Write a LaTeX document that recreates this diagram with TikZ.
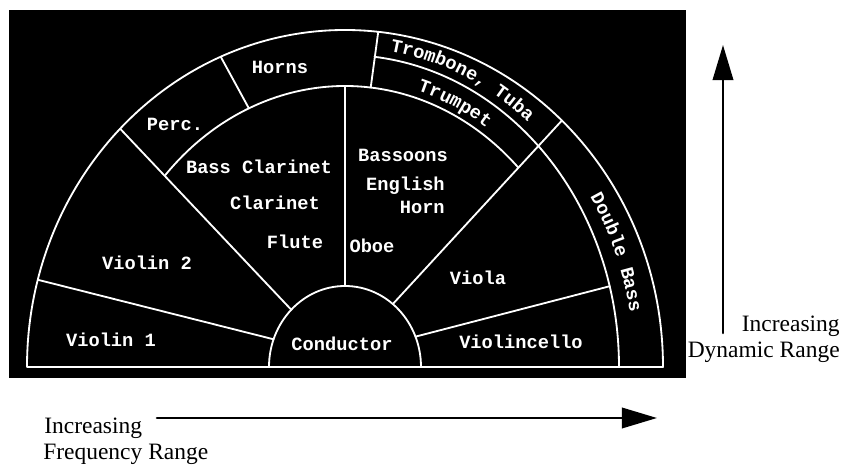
\documentclass[tikz,border=0pt]{standalone}
\usepackage{fontspec}
\setmainfont{Liberation Serif}
\newfontfamily\orchfont{Liberation Mono}
\usetikzlibrary{arrows.meta,decorations.text}

\tikzset{
	seat/.style={font=\orchfont\bfseries\fontsize{13.3}{16.5}\selectfont, text=white, inner sep=0pt, text height=9pt, text depth=0pt},
	ringtext/.style={decorate, decoration={text along path, text align=center,
		text={|\orchfont\bfseries\fontsize{13.3}{16.5}\selectfont\color{white}|#1}}},
	rangelabel/.style={font=\fontsize{16.7}{18.5}\selectfont, inner sep=0pt},
}

\begin{document}
\begin{tikzpicture}[>={Triangle[length=25pt, width=14.5pt]}, line join=round, line cap=round, x=0.025cm, y=0.025cm]
	\useasboundingbox (-345,-98) rectangle (498,367);
	% Nền đen
	\fill[black] (-336,-11) rectangle (341,357);
	
	% Các vòng cung
	\begin{scope}[white, line width=1.3pt]
		\draw (-318,0) -- (318,0) arc[start angle=0, end angle=180, x radius=318, y radius=337];
		\draw (76,0) arc[start angle=0, end angle=180, x radius=76, y radius=81];
		\draw (137:246 and 281) arc[start angle=137, end angle=45.2, x radius=246, y radius=281];
		\draw (83.8:274 and 312) arc[start angle=83.8, end angle=0, x radius=274, y radius=312];
		
		% Vách ngăn
		\draw (165:318 and 337) -- (160:76 and 81);
		\draw (135:318 and 337) -- (135:76 and 81);
		\draw (113:318 and 337) -- (113:246 and 281);
		\draw (84:318 and 337) -- (84:246 and 281);
		\draw (90:246 and 281) -- (90:76 and 81);
		\draw (47:318 and 337) -- (51:76 and 81);
		\draw (15:274 and 312) -- (22:76 and 81);
	\end{scope}
	
	% Tên các nhóm nhạc cụ
	\node[seat] (horns) at (-65,300) {Horns};
	\node[seat] (perc) at (-170,243) {Perc.};
	\node[seat] (bassclar) at (-86,200) {Bass Clarinet};
	\node[seat] (clar) at (-70,164) {Clarinet};
	\node[seat] (flute) at (-50,125) {Flute};
	\node[seat] (violintwo) at (-198,104) {Violin 2};
	\node[seat] (violinone) at (-234,27) {Violin 1};
	\node[seat] (conductor) at (-3,23) {Conductor};
	\node[seat] (bassoons) at (58,212) {Bassoons};
	\node[seat, align=right, anchor=east] (enghorn) at (100,160) {English\\Horn};
	\node[seat] (oboe) at (27,121) {Oboe};
	\node[seat] (viola) at (133,89) {Viola};
	\node[seat] (cello) at (176,25) {Violincello};
	
	% Chữ chạy theo cung
	\path[ringtext={Trombone, Tuba}] (85.5:284 and 320) arc[start angle=85.5, end angle=45.5, x radius=284, y radius=320];
	\path[ringtext={Trumpet}] (82:254 and 288) arc[start angle=82, end angle=48, x radius=254, y radius=288];
	\path[ringtext={Double Bass}] (40:289 and 321) arc[start angle=40, end angle=2, x radius=289, y radius=321];
	
	% Mũi tên chỉ hướng
	\coordinate (dynlow) at (378,34);
	\coordinate (dynhigh) at (378,322);
	\coordinate (freqlow) at (-188,-51);
	\coordinate (freqhigh) at (312,-51);
	\draw[->, line width=1.8pt] (dynlow) -- (dynhigh);
	\draw[->, line width=1.8pt] (freqlow) -- (freqhigh);
	\node[rangelabel, anchor=base east] (incdyn) at (495,35) {Increasing};
	\node[rangelabel, anchor=base east] (dynrange) at (495,9) {Dynamic Range};
	\node[rangelabel, anchor=base west] (incfreq) at (-301,-67) {Increasing};
	\node[rangelabel, anchor=base west] (freqrange) at (-302,-93) {Frequency Range};
\end{tikzpicture}
\end{document}
